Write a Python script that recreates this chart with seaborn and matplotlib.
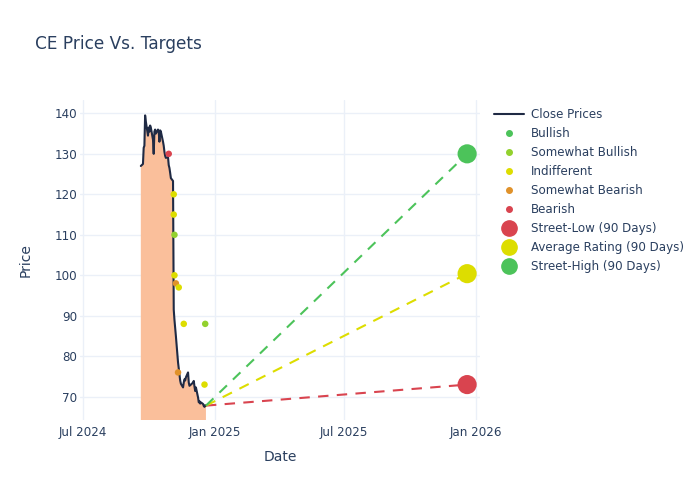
import numpy as np
import pandas as pd
import matplotlib
matplotlib.use('Agg')
import matplotlib.pyplot as plt
import matplotlib.dates as mdates
from matplotlib.lines import Line2D
import seaborn as sns

# close prices
close_dates = ['2024-09-20', '2024-09-23', '2024-09-24', '2024-09-25', '2024-09-26', '2024-09-27',
               '2024-09-30', '2024-10-01', '2024-10-02', '2024-10-03', '2024-10-04', '2024-10-07',
               '2024-10-08', '2024-10-09', '2024-10-10', '2024-10-11', '2024-10-14', '2024-10-15',
               '2024-10-16', '2024-10-17', '2024-10-18', '2024-10-21', '2024-10-22', '2024-10-23',
               '2024-10-24', '2024-10-25', '2024-10-28', '2024-10-29', '2024-10-30', '2024-10-31',
               '2024-11-01', '2024-11-04', '2024-11-05', '2024-11-06', '2024-11-07', '2024-11-08',
               '2024-11-11', '2024-11-12', '2024-11-13', '2024-11-14', '2024-11-15', '2024-11-18',
               '2024-11-19', '2024-11-20', '2024-11-21', '2024-11-22', '2024-11-25', '2024-11-26',
               '2024-11-27', '2024-11-29', '2024-12-02', '2024-12-03', '2024-12-04', '2024-12-05',
               '2024-12-06', '2024-12-09', '2024-12-10', '2024-12-11', '2024-12-12', '2024-12-13',
               '2024-12-16', '2024-12-17', '2024-12-18', '2024-12-19', '2024-12-20']
close_prices = [127.0, 127.5, 131.5, 132.0, 139.5, 138.0,
                134.5, 136.5, 135.5, 137.0, 136.5, 133.5,
                130.0, 135.5, 136.0, 135.0, 136.0, 135.5,
                133.0, 135.8, 135.5, 133.0, 132.0, 130.5,
                129.5, 129.0, 129.2, 127.2, 126.5, 125.3,
                124.0, 123.3, 91.5, 89.0, 87.0, 85.0,
                78.5, 77.0, 75.5, 74.0, 73.2, 72.3,
                73.5, 74.3, 74.0, 74.8, 76.0, 73.5,
                72.7, 73.0, 73.5, 73.9, 72.5, 71.4,
                72.3, 69.8, 68.6, 68.9, 68.3, 68.6,
                68.2, 67.7, 67.5, 67.9, 67.8]

# analyst ratings
rating_dates = ['2024-10-29', '2024-11-05', '2024-11-05', '2024-11-06', '2024-11-06', '2024-11-08',
                '2024-11-12', '2024-11-19', '2024-12-19', '2024-11-11', '2024-12-18']
rating_targets = [130, 120, 115, 110, 100, 98, 97, 88, 88, 76, 73]
rating_types = ['Bearish', 'Indifferent', 'Indifferent', 'Somewhat Bullish', 'Indifferent',
                'Somewhat Bearish', 'Indifferent', 'Indifferent', 'Somewhat Bullish',
                'Somewhat Bearish', 'Indifferent']

# 90 day targets
target_date = '2025-12-20'
target_names = ['Street-Low (90 Days)', 'Average Rating (90 Days)', 'Street-High (90 Days)']
target_values = [73, 100.4, 130]

rating_order = ['Bullish', 'Somewhat Bullish', 'Indifferent', 'Somewhat Bearish', 'Bearish']
rating_colors = ['#4cc35a', '#93d12e', '#dddd00', '#e0922a', '#d9444f']
target_colors = ['#d9444f', '#dddd00', '#4cc35a']

txt = '#2a3f5f'
grid = '#ebf0f8'
line_col = '#1f2a44'
fill_col = '#fabf9b'

prices = pd.DataFrame({'Date': pd.to_datetime(close_dates), 'Close': close_prices})
ratings = pd.DataFrame({'Date': pd.to_datetime(rating_dates), 'Target': rating_targets,
                        'Rating': rating_types})
targets = pd.DataFrame({'Date': pd.to_datetime([target_date] * 3), 'Target': target_values,
                        'Name': target_names})

sns.set_style('white')
plt.rcParams['font.family'] = ['DejaVu Sans']

fig = plt.figure(figsize=(7, 5), dpi=100)
ax = fig.add_axes([80 / 700, 80 / 500, 400 / 700, 320 / 500])

# area + close line
ax.fill_between(prices['Date'], prices['Close'], 0, color=fill_col, linewidth=0, zorder=1)
sns.lineplot(data=prices, x='Date', y='Close', ax=ax, color=line_col, linewidth=1.5, zorder=2)

# dashed lines from last close to targets
last_d = prices['Date'].iloc[-1]
last_p = prices['Close'].iloc[-1]
for v, c in zip(target_values, target_colors):
    ax.plot([last_d, pd.Timestamp(target_date)], [last_p, v], color=c, linewidth=1.5,
            dashes=(5, 4), zorder=2.5)

sns.scatterplot(data=ratings, x='Date', y='Target', hue='Rating', hue_order=rating_order,
                palette=rating_colors, s=22, linewidth=0, legend=False, ax=ax, zorder=3)
sns.scatterplot(data=targets, x='Date', y='Target', hue='Name', hue_order=target_names,
                palette=target_colors, s=190, linewidth=0, legend=False, ax=ax, zorder=4)

ax.set_xlim(pd.Timestamp('2024-06-27'), pd.Timestamp('2026-01-07'))
ax.set_ylim(64.25, 143.3)
ax.set_xticks(pd.to_datetime(['2024-07-01', '2025-01-01', '2025-07-01', '2026-01-01']))
ax.xaxis.set_major_formatter(mdates.DateFormatter('%b %Y'))
ax.set_yticks([70, 80, 90, 100, 110, 120, 130, 140])
ax.grid(True, color=grid, linewidth=1)
ax.set_axisbelow(True)
for s in ax.spines.values():
    s.set_visible(False)
ax.tick_params(axis='both', length=0, labelsize=8.6, labelcolor=txt)
ax.tick_params(axis='x', pad=4)
ax.tick_params(axis='y', pad=2)

ax.set_xlabel('Date', fontsize=10, color=txt, va='center')
ax.xaxis.set_label_coords(0.5, -0.115)
ax.set_ylabel('Price', fontsize=10, color=txt, va='center')
ax.yaxis.set_label_coords(-0.135, 0.5)

fig.text(35 / 700, 1 - 44 / 500, 'CE Price Vs. Targets', fontsize=12.2, color=txt, va='center')

handles = [Line2D([], [], color=line_col, linewidth=1.5)]
for c in rating_colors:
    handles.append(Line2D([], [], linestyle='none', marker='o', markersize=4, color=c))
for c in target_colors:
    handles.append(Line2D([], [], linestyle='none', marker='o', markersize=11, color=c))
labels = ['Close Prices'] + rating_order + target_names
leg = ax.legend(handles, labels, loc='upper left', bbox_to_anchor=(494 / 700, 1 - 108.5 / 500),
                bbox_transform=fig.transFigure, frameon=False, fontsize=8.6, borderpad=0,
                handlelength=2.5, handletextpad=0.6, labelspacing=0.5, borderaxespad=0)
for t in leg.get_texts():
    t.set_color(txt)

fig.savefig('out.png', dpi=100)
